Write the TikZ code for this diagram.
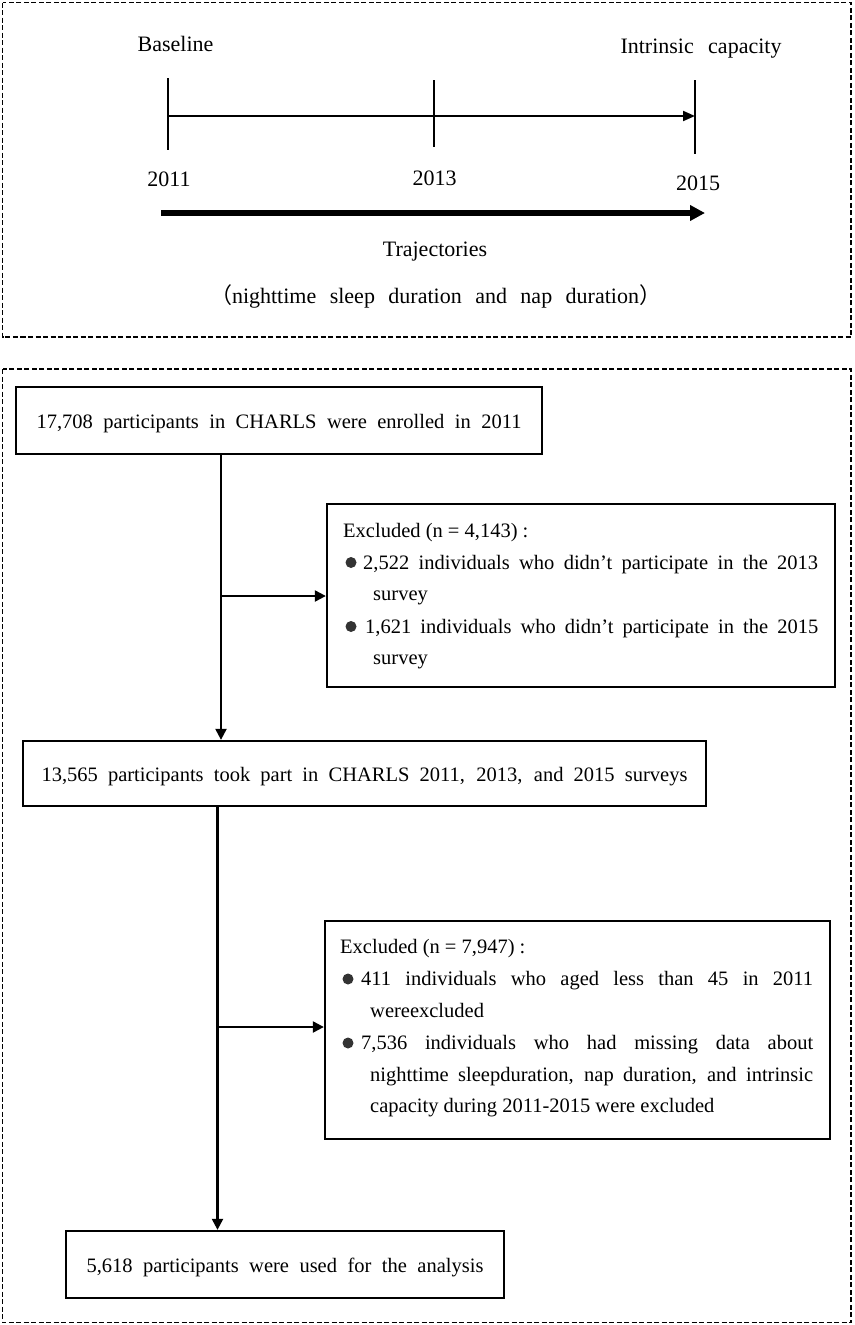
\documentclass[tikz,border=0pt]{standalone}
\usepackage{fontspec}
\setmainfont{Liberation Serif}
\newfontfamily\cjk{Noto Sans CJK SC}
\usetikzlibrary{arrows.meta}
\begin{document}
\begin{tikzpicture}[x=1pt,y=-1pt,
  frame/.style={draw, line width=1.1pt, dash pattern=on 5pt off 2.5pt},
  box/.style={draw, line width=2.3pt, inner sep=0pt, text height=19pt, text depth=4pt,
    font=\fontsize{20.5pt}{24pt}\selectfont},
  conn/.style={line width=2.2pt, -{Triangle[length=11pt,width=11pt]}},
  tickline/.style={line width=2.8pt},
  lbl/.style={font=\fontsize{22pt}{26pt}\selectfont, inner sep=0pt, anchor=base},
  txt/.style={font=\fontsize{20.5pt}{24pt}\selectfont, inner sep=0pt, anchor=base west},
  dot/.style={circle, fill=black!80, inner sep=0pt, minimum size=11pt}
]
\useasboundingbox (0,0) rectangle (854,1325);

% outer dashed frames
\draw[frame] (2.5,2.5) rectangle (851,337);
\draw[frame] (2.5,369) rectangle (851,1322.5);

% ---- timeline ----
\coordinate (k1a) at (168,78);  \coordinate (k1b) at (168,150);
\coordinate (k2a) at (434,80);  \coordinate (k2b) at (434,147);
\coordinate (k3a) at (695,80);  \coordinate (k3b) at (695,154);
\draw[tickline] (k1a) -- (k1b);
\draw[tickline] (k2a) -- (k2b);
\draw[tickline] (k3a) -- (k3b);
\coordinate (a0) at (168,116);
\coordinate (a1) at (695,116);
\draw[line width=2pt, -{Triangle[length=12pt,width=10pt]}] (a0) -- (a1);
\coordinate (w0) at (161,213);
\coordinate (w1) at (705,213);
\draw[line width=5.5pt, -{Triangle[length=15pt,width=15pt]}] (w0) -- (w1);

\node[lbl] (lb) at (175.5,51.7) {Baseline};
\node[lbl] (lic) at (701,53) {\makebox[161pt][s]{Intrinsic capacity}};
\node[lbl] (y1) at (169,186.5) {2011};
\node[lbl] (y2) at (434.5,185.7) {2013};
\node[lbl] (y3) at (698,190) {2015};
\node[lbl] (traj) at (435,256) {Trajectories};
\node[lbl] (nap) at (435.5,303) {{\cjk （}\makebox[407pt][s]{nighttime sleep duration and nap duration}{\cjk ）}};

% ---- flow chart ----
\node[box, minimum width=526pt, minimum height=67pt] (b1) at (279,420.5)
  {\makebox[485pt][s]{17,708 participants in CHARLS were enrolled in 2011}};
\node[box, minimum width=683pt, minimum height=65pt] (b2) at (364.5,773.5)
  {\makebox[646pt][s]{13,565 participants took part in CHARLS 2011, 2013, and 2015 surveys}};
\node[box, minimum width=438pt, minimum height=67pt] (b3) at (285,1264.5)
  {\makebox[397pt][s]{5,618 participants were used for the analysis}};

\node[box, minimum width=508pt, minimum height=183pt] (e1) at (581,595.5) {};
\node[box, minimum width=505pt, minimum height=218pt] (e2) at (577.5,1030) {};

\node[txt] (e1h) at (343,537) {Excluded (n = 4,143) :};
\node[dot] (e1d1) at (351,562.5) {};
\node[txt] (e1l1) at (363,569) {\makebox[455pt][s]{2,522 individuals who didn’t participate in the 2013}};
\node[txt] (e1l2) at (373,600) {survey};
\node[dot] (e1d2) at (351,626.5) {};
\node[txt] (e1l3) at (365,633) {\makebox[453pt][s]{1,621 individuals who didn’t participate in the 2015}};
\node[txt] (e1l4) at (373,664) {survey};

\node[txt] (e2h) at (340,953) {Excluded (n = 7,947) :};
\node[dot] (e2d1) at (348,979) {};
\node[txt] (e2l1) at (361,985) {\makebox[452pt][s]{411 individuals who aged less than 45 in 2011}};
\node[txt] (e2l2) at (370,1017) {wereexcluded};
\node[dot] (e2d2) at (348,1043) {};
\node[txt] (e2l3) at (361,1049) {\makebox[452pt][s]{7,536 individuals who had missing data about}};
\node[txt] (e2l4) at (370,1081) {\makebox[443pt][s]{nighttime sleepduration, nap duration, and intrinsic}};
\node[txt] (e2l5) at (370,1112) {capacity during 2011-2015 were excluded};

\coordinate (j1) at (221,596);
\draw[conn] (b1.south -| j1) -- (b2.north -| j1);
\draw[conn] (j1) -- (e1.west |- j1);
\coordinate (j2) at (217.5,1027);
\draw[conn] (b2.south -| j2) -- (b3.north -| j2);
\draw[conn] (j2) -- (e2.west |- j2);
\end{tikzpicture}
\end{document}
